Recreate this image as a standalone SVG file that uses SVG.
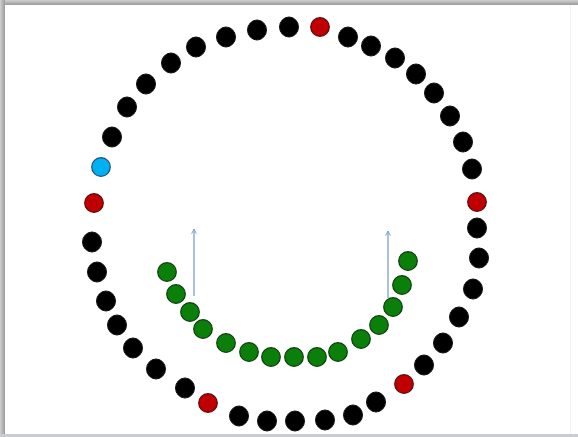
<svg xmlns="http://www.w3.org/2000/svg" width="578" height="437" viewBox="0 0 578 437">
<defs>
<style>
.b{fill:#000;stroke:#111;stroke-width:1}
.r{fill:#c00000;stroke:#5a0a0a;stroke-width:1.2}
.c{fill:#00b0f0;stroke:#1f4e79;stroke-width:1.2}
.g{fill:#0a800a;stroke:#0d3b0d;stroke-width:1.2}
.a{stroke:#7d9fd3;stroke-width:1.3;fill:none}
</style>
<marker id="ah" viewBox="0 0 10 10" refX="9" refY="5" markerWidth="6" markerHeight="6" orient="auto" markerUnits="userSpaceOnUse">
<path d="M1,1 L9,5 L1,9" fill="none" stroke="#7d9fd3" stroke-width="1.6"/>
</marker>
<linearGradient id="tb" x1="0" y1="0" x2="0" y2="1"><stop offset="0" stop-color="#d0d0d0"/><stop offset="1" stop-color="#9a9a9a"/></linearGradient>
<linearGradient id="lb" x1="0" y1="0" x2="1" y2="0"><stop offset="0" stop-color="#d0d0d0"/><stop offset="1" stop-color="#9a9a9a"/></linearGradient>
</defs>
<rect width="578" height="437" fill="#fff"/>
<rect x="0" y="0" width="578" height="5" fill="url(#tb)"/>
<rect x="0" y="0" width="5" height="437" fill="url(#lb)"/>
<rect x="0" y="434" width="578" height="3" fill="#c9cdd2"/>
<line x1="570.5" y1="5" x2="570.5" y2="434" stroke="#f3f3f3" stroke-width="1"/>
<g id="outer-ring">
<ellipse id="o1" class="b" cx="92" cy="242" rx="9.5" ry="10"/>
<ellipse id="o2" class="b" cx="97" cy="272" rx="9.5" ry="10"/>
<ellipse id="o3" class="b" cx="106" cy="301" rx="9.5" ry="10"/>
<ellipse id="o4" class="b" cx="117" cy="325" rx="9.5" ry="10"/>
<ellipse id="o5" class="b" cx="133" cy="348" rx="9.5" ry="10"/>
<ellipse id="o6" class="b" cx="156" cy="369" rx="9.5" ry="10"/>
<ellipse id="o7" class="b" cx="185" cy="388" rx="9.5" ry="10"/>
<circle id="o8" class="r" cx="208" cy="403" r="9.3"/>
<ellipse id="o9" class="b" cx="239" cy="416" rx="9.5" ry="10"/>
<ellipse id="o10" class="b" cx="267" cy="421" rx="9.5" ry="10"/>
<ellipse id="o11" class="b" cx="295" cy="421" rx="9.5" ry="10"/>
<ellipse id="o12" class="b" cx="325" cy="420" rx="9.5" ry="10"/>
<ellipse id="o13" class="b" cx="353" cy="415" rx="9.5" ry="10"/>
<ellipse id="o14" class="b" cx="376" cy="402" rx="9.5" ry="10"/>
<circle id="o15" class="r" cx="404" cy="384" r="9.3"/>
<ellipse id="o16" class="b" cx="424" cy="365" rx="9.5" ry="10"/>
<ellipse id="o17" class="b" cx="443" cy="343" rx="9.5" ry="10"/>
<ellipse id="o18" class="b" cx="459" cy="317" rx="9.5" ry="10"/>
<ellipse id="o19" class="b" cx="473" cy="289" rx="9.5" ry="10"/>
<ellipse id="o20" class="b" cx="479" cy="258" rx="9.5" ry="10"/>
<ellipse id="o21" class="b" cx="477" cy="228" rx="9.5" ry="10"/>
<circle id="o22" class="r" cx="477" cy="202" r="9.3"/>
<ellipse id="o23" class="b" cx="472" cy="169" rx="9.5" ry="10"/>
<ellipse id="o24" class="b" cx="463" cy="142" rx="9.5" ry="10"/>
<ellipse id="o25" class="b" cx="450" cy="116" rx="9.5" ry="10"/>
<ellipse id="o26" class="b" cx="434" cy="93" rx="9.5" ry="10"/>
<ellipse id="o27" class="b" cx="416" cy="74" rx="9.5" ry="10"/>
<ellipse id="o28" class="b" cx="395" cy="58" rx="9.5" ry="10"/>
<ellipse id="o29" class="b" cx="371" cy="46" rx="9.5" ry="10"/>
<ellipse id="o30" class="b" cx="348" cy="37" rx="9.5" ry="10"/>
<circle id="o31" class="r" cx="320" cy="27" r="9.3"/>
<ellipse id="o32" class="b" cx="289" cy="27" rx="9.5" ry="10"/>
<ellipse id="o33" class="b" cx="257" cy="30" rx="9.5" ry="10"/>
<ellipse id="o34" class="b" cx="226" cy="37" rx="9.5" ry="10"/>
<ellipse id="o35" class="b" cx="196" cy="47" rx="9.5" ry="10"/>
<ellipse id="o36" class="b" cx="171" cy="63" rx="9.5" ry="10"/>
<ellipse id="o37" class="b" cx="146" cy="84" rx="9.5" ry="10"/>
<ellipse id="o38" class="b" cx="127" cy="107" rx="9.5" ry="10"/>
<ellipse id="o39" class="b" cx="112" cy="137" rx="9.5" ry="10"/>
<circle id="o40" class="c" cx="101" cy="167" r="9.3"/>
<circle id="o41" class="r" cx="94" cy="203" r="9.3"/>
</g>
<g id="inner-arc">
<circle id="g1" class="g" cx="167" cy="272" r="9.3"/>
<circle id="g2" class="g" cx="176" cy="294" r="9.3"/>
<circle id="g3" class="g" cx="190" cy="312" r="9.3"/>
<circle id="g4" class="g" cx="203" cy="329" r="9.3"/>
<circle id="g5" class="g" cx="226" cy="343" r="9.3"/>
<circle id="g6" class="g" cx="249" cy="352" r="9.3"/>
<circle id="g7" class="g" cx="271" cy="357" r="9.3"/>
<circle id="g8" class="g" cx="294" cy="357" r="9.3"/>
<circle id="g9" class="g" cx="317" cy="357" r="9.3"/>
<circle id="g10" class="g" cx="338" cy="352" r="9.3"/>
<circle id="g11" class="g" cx="361" cy="339" r="9.3"/>
<circle id="g12" class="g" cx="379" cy="325" r="9.3"/>
<circle id="g13" class="g" cx="393" cy="307" r="9.3"/>
<circle id="g14" class="g" cx="402" cy="285" r="9.3"/>
<circle id="g15" class="g" cx="408" cy="261" r="9.3"/>
</g>
<g id="connectors">
<line class="a" x1="194" y1="296" x2="194" y2="229" marker-end="url(#ah)"/>
<line class="a" x1="388" y1="298" x2="388" y2="231" marker-end="url(#ah)"/>
</g>
</svg>
